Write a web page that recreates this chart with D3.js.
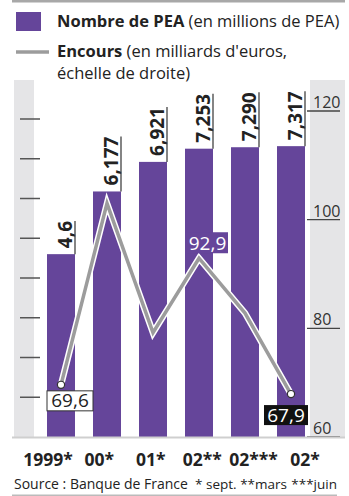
<!DOCTYPE html>
<html><head><meta charset="utf-8">
<script src="https://cdn.jsdelivr.net/npm/d3@7"></script>
<style>
html,body{margin:0;padding:0;background:#fff;}
svg{display:block;font-family:"Open Sans","Noto Sans",sans-serif;}
</style></head>
<body>
<svg id="c" width="349" height="496"></svg>
<script>
const categories = ["1999*","00*","01*","02**","02***","02*"];
const peaCount = [4.6, 6.177, 6.921, 7.253, 7.290, 7.317];
const peaLabels = ["4,6","6,177","6,921","7,253","7,290","7,317"];
const encours = [69.6, 103.0, 79.2, 92.9, 82.8, 67.9];
const encoursLabels = ["69,6", null, null, "92,9", null, "67,9"];
const rightTicks = [60, 80, 100, 120];
const leftTicks = [1,2,3,4,5,6,7,8];

const svg = d3.select("#c");
const purple = "#65459a", grayBg = "#e5e5e7", lineGray = "#9c9c9c", dark = "#222";

// top rule
svg.append("rect").attr("x",12).attr("y",0).attr("width",333).attr("height",2.5).attr("fill","#a8a8a8");

// legend
svg.append("rect").attr("x",16).attr("y",12).attr("width",25).attr("height",19).attr("fill",purple);
const l1 = svg.append("text").attr("x",57).attr("y",27).attr("font-size",16.5).attr("fill",dark);
l1.append("tspan").attr("font-weight","bold").text("Nombre de PEA");
l1.append("tspan").text(" (en millions de PEA)");
svg.append("line").attr("x1",16).attr("x2",49).attr("y1",52).attr("y2",52).attr("stroke",lineGray).attr("stroke-width",3.5);
const l2 = svg.append("text").attr("x",57).attr("y",57).attr("font-size",16.5).attr("fill",dark);
l2.append("tspan").attr("font-weight","bold").text("Encours");
l2.append("tspan").text(" (en milliards d'euros,");
svg.append("text").attr("x",57).attr("y",79).attr("font-size",16.5).attr("fill",dark).text("échelle de droite)");

// backgrounds
svg.append("rect").attr("x",14).attr("y",80).attr("width",20).attr("height",357).attr("fill",grayBg);
svg.append("rect").attr("x",310).attr("y",80).attr("width",35).attr("height",357).attr("fill",grayBg);

// scales
const x = d3.scaleBand().domain(categories).range([38,314]).paddingInner(18/46).paddingOuter(9/46);
const yL = d3.scaleLinear().domain([0,8]).range([437,119]);
const yR = d3.scaleLinear().domain([60,120]).range([437,111]);
const xLab = d3.scalePoint().domain(categories).range([48,305]);

// left ticks
svg.selectAll(".lt").data(leftTicks).join("line")
  .attr("x1",20).attr("x2",40).attr("y1",d=>yL(d)).attr("y2",d=>yL(d))
  .attr("stroke","#555").attr("stroke-width",1.5);

// right ticks
const rt = svg.selectAll(".rt").data(rightTicks).join("g").attr("transform",d=>`translate(0,${yR(d)})`);
rt.append("line").attr("x1",307).attr("x2",340).attr("stroke","#444").attr("stroke-width",1.3);
rt.append("text").attr("x",313).attr("y",-3).attr("font-size",16).attr("fill","#333").text(d=>d);

// bars
svg.selectAll(".bar").data(peaCount).join("rect")
  .attr("x",(d,i)=>x(categories[i])).attr("width",x.bandwidth())
  .attr("y",d=>yL(d)).attr("height",d=>yL(0)-yL(d)).attr("fill",purple);

// base line
svg.append("rect").attr("x",12).attr("y",436.5).attr("width",333).attr("height",2).attr("fill","#cfcfcf");

// bar labels
peaCount.forEach((d,i)=>{
  const xr = x(categories[i]) + x.bandwidth();
  const top = yL(d);
  const t = svg.append("text")
    .attr("transform",`translate(${xr-3},${top-6}) rotate(-90)`)
    .attr("font-size",19).attr("font-weight","bold").attr("fill",dark)
    .text(peaLabels[i]);
  const len = t.node().getComputedTextLength();
  svg.append("line").attr("x1",xr).attr("x2",xr).attr("y1",top).attr("y2",top-6-len)
    .attr("stroke","#333").attr("stroke-width",1.2);
});

// line
const cx = (d,i)=>x(categories[i]) + x.bandwidth()/2;
const lineGen = d3.line().x((d,i)=>cx(d,i)).y(d=>yR(d));
svg.append("path").datum(encours).attr("d",lineGen).attr("fill","none")
  .attr("stroke","#fff").attr("stroke-width",6.5).attr("stroke-linejoin","miter");
svg.append("path").datum(encours).attr("d",lineGen).attr("fill","none")
  .attr("stroke",lineGray).attr("stroke-width",3.5).attr("stroke-linejoin","miter");

[0, encours.length-1].forEach(i=>{
  svg.append("circle").attr("cx",cx(encours[i],i)).attr("cy",yR(encours[i])).attr("r",3.6)
    .attr("fill","#fff").attr("stroke","#333").attr("stroke-width",1.2);
});

// value labels
const styles = {
  0:{dx:-14,dy:6,w:46,h:20,bg:"#fff",stroke:"#333",fg:"#222"},
  3:{dx:-12,dy:-26,w:41,h:21,bg:purple,stroke:null,fg:"#fff"},
  5:{dx:-27,dy:11,w:44,h:20,bg:"#111",stroke:null,fg:"#fff"}
};
encours.forEach((d,i)=>{
  if(!encoursLabels[i]) return;
  const s = styles[i];
  const px = cx(d,i), py = yR(d);
  svg.append("rect").attr("x",px+s.dx).attr("y",py+s.dy).attr("width",s.w).attr("height",s.h)
    .attr("fill",s.bg).attr("stroke",s.stroke||"none").attr("stroke-width",1);
  svg.append("text").attr("x",px+s.dx+s.w/2).attr("y",py+s.dy+s.h-3.5).attr("text-anchor","middle")
    .attr("font-size",19).attr("fill",s.fg).text(encoursLabels[i]);
});

// x labels
svg.selectAll(".xl").data(categories).join("text")
  .attr("x",d=>xLab(d)).attr("y",466).attr("text-anchor","middle")
  .attr("font-size",17.5).attr("font-weight","bold").attr("fill",dark).text(d=>d);

// footer
svg.append("text").attr("x",14).attr("y",489).attr("font-size",14).attr("fill",dark).text("Source : Banque de France");
svg.append("text").attr("x",287).attr("y",489).attr("text-anchor","end").attr("font-size",13.5).attr("fill",dark).text("* sept. **mars");
svg.append("text").attr("x",337).attr("y",489).attr("text-anchor","end").attr("font-size",13.5).attr("fill",dark).text("***juin");
svg.append("rect").attr("x",12).attr("y",494.5).attr("width",325).attr("height",1.5).attr("fill","#bbb");
</script>
</body></html>
